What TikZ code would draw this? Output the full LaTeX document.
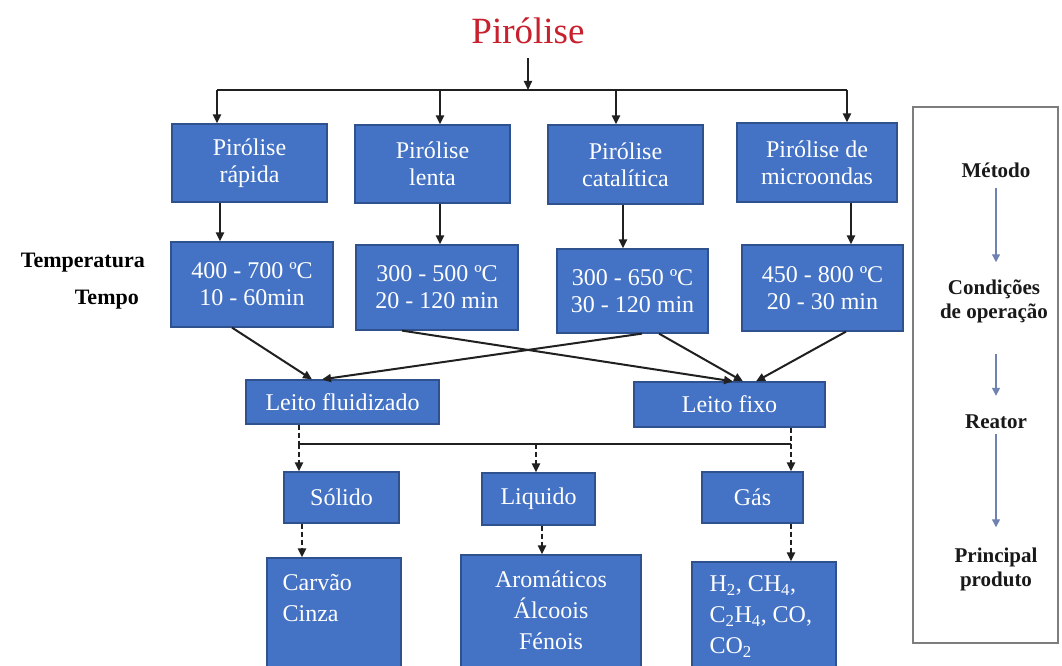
\documentclass[tikz,border=0pt]{standalone}
\usepackage{fontspec}
\setmainfont{Liberation Serif}
\usetikzlibrary{arrows.meta}

\definecolor{boxblue}{RGB}{68,114,196}
\definecolor{boxedge}{RGB}{47,82,143}
\definecolor{titlered}{RGB}{200,32,44}
\definecolor{flowgray}{RGB}{112,130,178}
\definecolor{framegray}{RGB}{125,125,125}
\definecolor{linkgray}{RGB}{32,32,32}

\tikzset{
  bluebox/.style={draw=boxedge, fill=boxblue, line width=1.2pt, text=white,
    align=center, inner sep=0pt, font={\fontsize{24}{27}\selectfont}},
  boxtext/.style={text=white, inner sep=0pt, font={\fontsize{24}{31}\selectfont}},
  link/.style={draw=linkgray, line width=2pt},
  arr/.style={link, -{Triangle[length=9pt,width=8pt]}},
  darr/.style={arr, dash pattern=on 5pt off 3pt},
  dlink/.style={link, dash pattern=on 5pt off 3pt},
  ptext/.style={align=center, inner sep=0pt, text=black!90,
    font={\bfseries\fontsize{21}{24}\selectfont}},
  parr/.style={draw=flowgray, line width=1.3pt, -{Triangle[length=8pt,width=8pt]}},
}

\begin{document}
\begin{tikzpicture}[x=1pt,y=-1pt]
\useasboundingbox (0,0) rectangle (1062,666);
\clip (0,0) rectangle (1062,666);
\fill[white] (0,0) rectangle (1062,666);

% title and distribution bar
\node[inner sep=0pt, text=titlered, font={\fontsize{37}{40}\selectfont}] (title) at (528,31) {Pirólise};
\coordinate (hub) at (526,90);
\coordinate (t1) at (217,90);
\coordinate (t2) at (440,90);
\coordinate (t3) at (616,90);
\coordinate (t4) at (847,90);

% methods
\node[bluebox, minimum width=155pt, minimum height=78pt] (b1) at (249.5,163) {Pirólise\\rápida};
\node[bluebox, minimum width=155pt, minimum height=78pt] (b2) at (432.5,164) {Pirólise\\lenta};
\node[bluebox, minimum width=155pt, minimum height=79pt] (b3) at (625.5,164.5) {Pirólise\\catalítica};
\node[bluebox, minimum width=160pt, minimum height=79pt] (b4) at (817,162.5) {Pirólise de\\microondas};

% operating conditions
\node[bluebox, minimum width=162pt, minimum height=85pt] (c1) at (252,284.5) {400 - 700 ºC\\10 - 60min};
\node[bluebox, minimum width=162pt, minimum height=85pt] (c2) at (437,287.5) {300 - 500 ºC\\20 - 120 min};
\node[bluebox, minimum width=151pt, minimum height=84pt] (c3) at (632.5,291) {300 - 650 ºC\\30 - 120 min};
\node[bluebox, minimum width=161pt, minimum height=86pt] (c4) at (822.5,288) {450 - 800 ºC\\20 - 30 min};

\node[anchor=east, inner sep=0pt, font={\bfseries\fontsize{22}{24}\selectfont}] (temp) at (145,263) {Temperatura};
\node[anchor=east, inner sep=0pt, font={\bfseries\fontsize{22}{24}\selectfont}] (tempo) at (139,300) {Tempo};

% reactors
\node[bluebox, minimum width=193pt, minimum height=44pt] (lf) at (342.5,402) {Leito fluidizado};
\node[bluebox, minimum width=191pt, minimum height=45pt] (lx) at (729.5,404.5) {Leito fixo};

% product phases
\node[bluebox, minimum width=115pt, minimum height=51pt] (s) at (341.5,497.5) {Sólido};
\node[bluebox, minimum width=113pt, minimum height=52pt] (l) at (538.5,499) {Liquido};
\node[bluebox, minimum width=101pt, minimum height=51pt] (g) at (752.5,497.5) {Gás};

% main products (boxes run past the lower edge)
\node[bluebox, minimum width=134pt, minimum height=142pt] (p1) at (334,629) {};
\node[bluebox, minimum width=180pt, minimum height=145pt] (p2) at (551,627.5) {};
\node[bluebox, minimum width=144pt, minimum height=138pt] (p3) at (764,631) {};
\node[boxtext, anchor=north west, align=left] (p1t) at ([xshift=16pt,yshift=-17pt]p1.north west) {Carvão\\Cinza};
\node[boxtext, anchor=north, align=center] (p2t) at ([yshift=-16pt]p2.north) {Aromáticos\\Álcoois\\Fénois};
\node[boxtext, anchor=north west, align=left] (p3t) at ([xshift=18pt,yshift=-14pt]p3.north west) {H\textsubscript{2}, CH\textsubscript{4},\\C\textsubscript{2}H\textsubscript{4}, CO,\\CO\textsubscript{2}};

% connectors: title to methods
\draw[arr, shorten <=14pt] (title.south) -- (title.south |- hub);
\draw[link] (t1) -- (t4);
\draw[arr] (t1) -- (b1.north -| t1);
\draw[arr] (t2) -- (b2.north -| t2);
\draw[arr] (t3) -- (b3.north -| t3);
\draw[arr] (t4) -- (b4.north -| t4);

% methods to conditions
\coordinate (d1) at (220,0);
\coordinate (d2) at (440,0);
\coordinate (d3) at (623,0);
\coordinate (d4) at (851,0);
\draw[arr] (b1.south -| d1) -- (c1.north -| d1);
\draw[arr] (b2.south -| d2) -- (c2.north -| d2);
\draw[arr] (b3.south -| d3) -- (c3.north -| d3);
\draw[arr] (b4.south -| d4) -- (c4.north -| d4);

% conditions to reactors
\draw[arr] ([xshift=-20pt]c1.south) -- ([xshift=-30.5pt]lf.north);
\draw[arr] ([xshift=9.5pt]c3.south) -- ([xshift=-20.5pt]lf.north);
\draw[arr] ([xshift=-35pt]c2.south) -- ([xshift=3.5pt]lx.north);
\draw[arr] ([xshift=26.5pt]c3.south) -- ([xshift=13.5pt]lx.north);
\draw[arr] ([xshift=23.5pt]c4.south) -- ([xshift=26.5pt]lx.north);

% reactors to product phases
\coordinate (jl) at (299,444);
\coordinate (jm) at (536,444);
\coordinate (jr) at (791,444);
\draw[dlink] (lf.south -| jl) -- (jl);
\draw[dlink] (lx.south -| jr) -- (jr);
\draw[link] (jl) -- (jr);
\draw[darr] (jl) -- (s.north -| jl);
\draw[darr] (jm) -- (l.north -| jm);
\draw[darr] (jr) -- (g.north -| jr);

% phases to main products
\coordinate (e1) at (302,0);
\coordinate (e2) at (542,0);
\coordinate (e3) at (791,0);
\draw[darr] (s.south -| e1) -- (p1.north -| e1);
\draw[darr] (l.south -| e2) -- (p2.north -| e2);
\draw[darr] (g.south -| e3) -- (p3.north -| e3);

% legend panel
\draw[framegray, line width=2.5pt] (913,107) rectangle (1058,643);
\node[ptext] (met) at (996,170) {Método};
\node[ptext] (cond) at (994,301) {Condições\\de operação};
\node[ptext] (reat) at (996,422) {Reator};
\node[ptext] (prod) at (996,569) {Principal\\produto};
\draw[parr, shorten <=10pt, shorten >=17pt] (met.south) -- (met.south |- cond.north);
\draw[parr, shorten <=31pt, shorten >=19pt] (met.south |- cond.south) -- (reat.north);
\draw[parr, shorten <=5pt, shorten >=20pt] (reat.south) -- (prod.north);
\end{tikzpicture}
\end{document}
